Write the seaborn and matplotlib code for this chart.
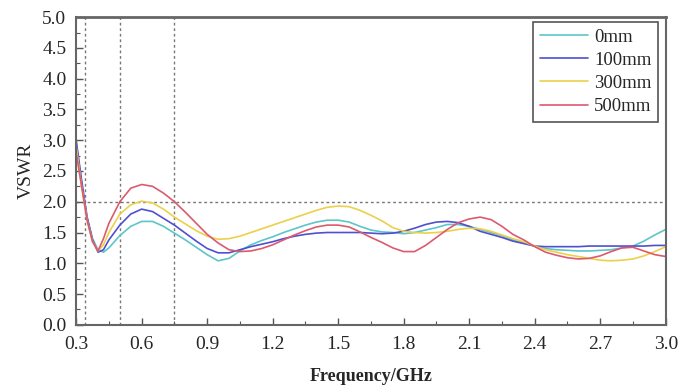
import numpy as np
import pandas as pd
import matplotlib
matplotlib.use("Agg")
import matplotlib.pyplot as plt
import seaborn as sns
from matplotlib.ticker import MultipleLocator

freq = [0.30, 0.325, 0.35, 0.375, 0.40, 0.425, 0.45,
        0.50, 0.55, 0.60, 0.65, 0.70, 0.75, 0.80, 0.85, 0.90, 0.95,
        1.00, 1.05, 1.10, 1.15, 1.20, 1.25, 1.30, 1.35, 1.40, 1.45,
        1.50, 1.55, 1.60, 1.65, 1.70, 1.75, 1.80, 1.85, 1.90, 1.95,
        2.00, 2.05, 2.10, 2.15, 2.20, 2.25, 2.30, 2.35, 2.40, 2.45,
        2.50, 2.55, 2.60, 2.65, 2.70, 2.75, 2.80, 2.85, 2.90, 2.95, 3.00]

vswr_0mm = [2.95, 2.30, 1.75, 1.40, 1.22, 1.18, 1.25,
            1.45, 1.60, 1.68, 1.68, 1.60, 1.49, 1.38, 1.26, 1.14, 1.04,
            1.08, 1.20, 1.30, 1.37, 1.43, 1.50, 1.56, 1.62, 1.67, 1.70,
            1.70, 1.67, 1.60, 1.54, 1.51, 1.50, 1.48, 1.50, 1.54, 1.58,
            1.63, 1.63, 1.60, 1.55, 1.50, 1.45, 1.38, 1.33, 1.28, 1.24,
            1.22, 1.21, 1.20, 1.20, 1.21, 1.22, 1.25, 1.28, 1.36, 1.46, 1.55]
vswr_100mm = [3.00, 2.35, 1.75, 1.38, 1.18, 1.22, 1.38,
              1.62, 1.80, 1.88, 1.84, 1.73, 1.62, 1.49, 1.36, 1.24, 1.17,
              1.17, 1.22, 1.27, 1.31, 1.35, 1.40, 1.44, 1.47, 1.49, 1.50,
              1.50, 1.50, 1.50, 1.49, 1.48, 1.49, 1.52, 1.57, 1.63, 1.67,
              1.68, 1.66, 1.60, 1.52, 1.47, 1.42, 1.36, 1.32, 1.28, 1.27,
              1.27, 1.27, 1.27, 1.28, 1.28, 1.28, 1.28, 1.28, 1.28, 1.29, 1.29]
vswr_300mm = [2.90, 2.25, 1.70, 1.35, 1.20, 1.30, 1.50,
              1.80, 1.95, 2.01, 1.98, 1.88, 1.75, 1.64, 1.53, 1.44, 1.39,
              1.40, 1.44, 1.50, 1.56, 1.62, 1.68, 1.74, 1.80, 1.86, 1.91,
              1.93, 1.92, 1.86, 1.78, 1.69, 1.58, 1.52, 1.50, 1.49, 1.50,
              1.52, 1.55, 1.57, 1.56, 1.52, 1.46, 1.40, 1.35, 1.28, 1.22,
              1.18, 1.14, 1.11, 1.08, 1.05, 1.04, 1.05, 1.07, 1.12, 1.19, 1.27]
vswr_500mm = [2.80, 2.25, 1.70, 1.35, 1.20, 1.40, 1.65,
              2.00, 2.22, 2.28, 2.25, 2.14, 2.00, 1.83, 1.65, 1.47, 1.33,
              1.22, 1.19, 1.20, 1.24, 1.30, 1.38, 1.46, 1.53, 1.59, 1.62,
              1.62, 1.59, 1.51, 1.42, 1.34, 1.25, 1.19, 1.19, 1.29, 1.42,
              1.55, 1.66, 1.72, 1.75, 1.71, 1.60, 1.47, 1.38, 1.27, 1.18,
              1.13, 1.09, 1.07, 1.08, 1.12, 1.19, 1.25, 1.26, 1.20, 1.14, 1.11]

labels = ["0mm", "100mm", "300mm", "500mm"]
colors = ["#5cc6c8", "#4f4fd2", "#ecd04a", "#dc5a6e"]
guide_x = [0.34, 0.50, 0.75]
guide_y = 2.0

df = pd.DataFrame({
    "freq": freq * 4,
    "vswr": vswr_0mm + vswr_100mm + vswr_300mm + vswr_500mm,
    "dist": np.repeat(labels, len(freq)),
})

sns.set_style("ticks")
plt.rcParams["font.family"] = ["Liberation Serif", "DejaVu Serif"]
plt.rcParams["xtick.direction"] = "in"
plt.rcParams["ytick.direction"] = "in"

fig = plt.figure(figsize=(6.8, 3.89), dpi=100)
ax = fig.add_axes([0.112, 0.165, 0.867, 0.791])

sns.lineplot(data=df, x="freq", y="vswr", hue="dist", hue_order=labels,
             palette=colors, linewidth=1.2, ax=ax)

for gx in guide_x:
    ax.axvline(gx, color="#777777", linestyle=(0, (2, 2)), linewidth=1.0, zorder=0)
ax.axhline(guide_y, color="#777777", linestyle=(0, (2, 2)), linewidth=1.0, zorder=0)

ax.set_xlim(0.3, 3.0)
ax.set_ylim(0.0, 5.0)
ax.xaxis.set_major_locator(MultipleLocator(0.3))
ax.xaxis.set_minor_locator(MultipleLocator(0.15))
ax.yaxis.set_major_locator(MultipleLocator(0.5))
ax.yaxis.set_minor_locator(MultipleLocator(0.25))
ax.xaxis.set_major_formatter(plt.FormatStrFormatter("%.1f"))
ax.yaxis.set_major_formatter(plt.FormatStrFormatter("%.1f"))
ax.tick_params(which="major", length=5, width=1.0, color="#555555", labelsize=14)
ax.tick_params(axis="x", which="major", pad=8)
ax.tick_params(axis="y", which="major", pad=7)
ax.tick_params(which="minor", length=3, width=0.8, color="#555555")
for s in ax.spines.values():
    s.set_color("#666666")
    s.set_linewidth(1.5)
ax.spines["top"].set_linewidth(2.0)

ax.set_xlabel("Frequency/GHz", fontsize=13, fontweight="bold", labelpad=11)
ax.set_ylabel("VSWR", fontsize=14, labelpad=5)

leg = ax.legend(loc="upper right", bbox_to_anchor=(0.99, 0.99), fontsize=13.5,
                handlelength=2.6, handletextpad=0.3, borderpad=0.35,
                labelspacing=0.32, borderaxespad=0.1, fancybox=False, framealpha=1)
leg.get_frame().set_edgecolor("#555555")
leg.get_frame().set_linewidth(1.2)
for line in leg.get_lines():
    line.set_linewidth(1.2)

fig.savefig("out.png", dpi=100)
